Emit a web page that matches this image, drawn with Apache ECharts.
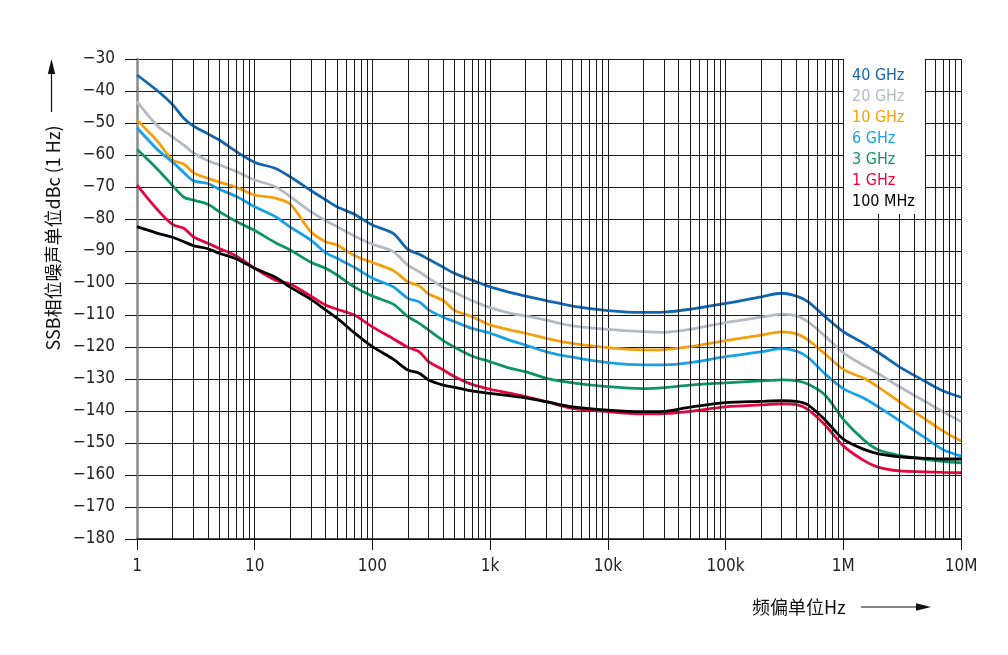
<!DOCTYPE html>
<html>
<head>
<meta charset="utf-8">
<script src="https://cdn.jsdelivr.net/npm/echarts@6/dist/echarts.min.js"></script>
<style>
  html, body { margin: 0; padding: 0; background: #fff; }
  #chart { position: absolute; left: 0; top: 0; width: 1008px; height: 655px; }
  #edge { position: absolute; left: 2px; top: 0; width: 2px; height: 655px; background: #e2e2e2; }
</style>
</head>
<body>
<div id="edge"></div>
<div id="chart"></div>
<script>
// 频偏 (Hz)
const freq = [1, 1.5, 2, 2.5, 3, 4, 5, 7, 10, 15, 20, 30, 40, 50, 70, 100, 150, 200, 250, 300, 400, 500, 700,
  1e3, 1.5e3, 2e3, 3e3, 5e3, 1e4, 2e4, 3e4, 5e4, 1e5, 2e5, 3e5, 4e5, 5e5, 7e5,
  1e6, 1.5e6, 2e6, 3e6, 5e6, 7e6, 1e7];

// SSB 相位噪声 (dBc/Hz)
const ghz40 = [-35, -40, -44.2, -48.5, -50.9, -53.4, -55.3, -59, -62.3, -64.2, -66.8, -71.1, -74, -76.2, -78.5, -81.9, -84.5, -89.5, -91, -92.6, -95.1, -97, -99.1,
  -101.2, -103, -104.1, -105.5, -107.2, -108.6, -109.2, -109.1, -108.2, -106.4, -104.3, -103.2, -104.1, -105.8, -110.5,
  -115.2, -118.9, -121.8, -126.2, -130.8, -133.7, -135.7];
const ghz20 = [-43.3, -51, -54.3, -56.9, -59.3, -61.8, -63.1, -65.2, -67.8, -69.9, -73, -77.7, -80.5, -82.4, -85.3, -87.9, -90.2, -94.4, -96.5, -98.5, -101.4, -103, -105.5,
  -107.7, -109.5, -110.3, -111.6, -113.4, -114.5, -115.2, -115.4, -114.5, -112.4, -110.7, -109.7, -110.3, -112.1, -116.6,
  -121.8, -125.8, -128.4, -132.4, -137.1, -140.2, -143.3];
const ghz10 = [-49.1, -55.8, -61.6, -62.8, -65.5, -67.3, -68.5, -70.1, -72.5, -73.5, -75.3, -84, -87.1, -88.1, -91.4, -93.6, -96.1, -99.6, -100.9, -103.4, -105.5, -108.6, -110.5,
  -113.1, -114.7, -115.7, -117.3, -118.9, -120.2, -120.9, -120.8, -119.9, -118, -116.3, -115.3, -115.9, -117.8, -122.2,
  -127, -129.8, -132.6, -137.1, -142.6, -146.2, -149.4];
const ghz6 = [-51.5, -58.4, -62.2, -65.5, -68, -68.9, -70.7, -73, -76.2, -79.3, -82.5, -86.6, -90.5, -92.3, -95.1, -98.5, -101.2, -104.8, -105.9, -108.4, -110.7, -112.1, -114.2,
  -115.7, -118, -119.4, -121.5, -123.2, -124.9, -125.6, -125.6, -124.9, -123, -121.5, -120.5, -121.3, -123.2, -128.4,
  -133, -136, -138.8, -143, -148.5, -152, -154.1];
const ghz3 = [-58.2, -64.5, -69.5, -73.2, -74.1, -75.4, -77.7, -80.8, -83.6, -87.4, -89.7, -93.5, -95.4, -97.5, -101.2, -104.1, -106.6, -110.5, -112.6, -114.7, -118, -120.1, -122.8,
  -124.6, -126.7, -127.7, -129.8, -131.2, -132.4, -133, -132.7, -131.9, -131.2, -130.6, -130.3, -130.5, -131.6, -135,
  -142.6, -149.1, -152.2, -153.9, -155.1, -155.7, -156.2];
const ghz1 = [-69.4, -77.2, -81.7, -82.9, -85.5, -87.6, -89.2, -91.6, -95.4, -99.1, -100.3, -104.1, -106.9, -108.2, -110, -113.7, -117.4, -120.1, -121.5, -124.6, -127.2, -129.3, -131.7,
  -133.2, -134.5, -135.5, -137.1, -139.2, -140.2, -140.9, -140.8, -140.1, -138.7, -138.1, -137.8, -138, -139.5, -144.4,
  -150.9, -155.5, -157.6, -158.7, -159, -159.2, -159.3];
const mhz100 = [-82.4, -84.5, -85.7, -87.1, -88.3, -89.3, -90.7, -92.5, -95.4, -98.2, -101.3, -105.1, -108.4, -111, -115.5, -119.9, -123.8, -127.2, -128.2, -130.3, -131.9, -132.6, -133.7,
  -134.5, -135.3, -135.9, -137.1, -138.7, -139.7, -140.2, -140.1, -138.8, -137.4, -137, -136.8, -137, -138.1, -142.8,
  -148.8, -152, -153.4, -154.3, -154.8, -155, -155];

const seriesNames = ['40 GHz', '20 GHz', '10 GHz', '6 GHz', '3 GHz', '1 GHz', '100 MHz'];
const seriesColors = ['#1266b0', '#b3bac2', '#f4a00c', '#17a2e8', '#0e9563', '#e4063c', '#000000'];
const seriesValues = [ghz40, ghz20, ghz10, ghz6, ghz3, ghz1, mhz100];

const xTickLabels = ['1', '10', '100', '1k', '10k', '100k', '1M', '10M'];

const numFont = "'Liberation Sans Narrow', 'DejaVu Sans Condensed', 'Roboto Condensed', Roboto, sans-serif";
const cjkFont = "'Liberation Sans Narrow', 'Noto Sans CJK SC', sans-serif";

// 对数网格的细分线 2..9 x 10^n
const minorLines = [];
for (let d = 0; d < 7; d++) {
  for (let m = 2; m <= 9; m++) {
    minorLines.push({ xAxis: m * Math.pow(10, d) });
  }
}

const chart = echarts.init(document.getElementById('chart'));

const series = seriesNames.map((name, i) => ({
  name: name,
  type: 'line',
  z: 3,
  showSymbol: false,
  smooth: 0.3,
  color: seriesColors[i],
  lineStyle: { width: 2.8, color: seriesColors[i] },
  data: freq.map((f, j) => [f, seriesValues[i][j]])
}));

// 网格细分线
series.unshift({
  name: 'grid',
  type: 'line',
  z: 1,
  data: [],
  silent: true,
  markLine: {
    silent: true,
    symbol: ['none', 'none'],
    label: { show: false },
    animation: false,
    lineStyle: { color: '#1a1a1a', width: 1, type: 'solid' },
    emphasis: { disabled: true },
    data: minorLines
  }
});

chart.setOption({
  animation: false,
  backgroundColor: '#fff',
  grid: { left: 137, right: 47, top: 59, bottom: 116 },
  legend: {
    orient: 'vertical',
    align: 'left',
    left: 844,
    top: 57,
    padding: [11, 10, 4, 3],
    backgroundColor: '#fff',
    icon: 'none',
    itemWidth: 0,
    itemHeight: 14,
    itemGap: 5,
    selectedMode: false,
    z: 10,
    textStyle: { fontFamily: numFont, fontSize: 16, lineHeight: 16 },
    data: seriesNames.map((n, i) => ({ name: n, textStyle: { color: seriesColors[i] } }))
  },
  xAxis: {
    type: 'log',
    logBase: 10,
    min: 1,
    max: 1e7,
    splitNumber: 7,
    axisLine: { lineStyle: { color: '#111', width: 1.5 } },
    axisTick: { show: true, length: 11, lineStyle: { color: '#111', width: 1 } },
    axisLabel: {
      margin: 19,
      color: '#222',
      fontFamily: numFont,
      fontSize: 17,
      formatter: v => xTickLabels[Math.round(Math.log10(v))]
    },
    splitLine: { show: true, lineStyle: { color: '#1a1a1a', width: 1 } }
  },
  yAxis: {
    type: 'value',
    min: -180,
    max: -30,
    interval: 10,
    axisLine: { show: true, lineStyle: { color: '#8a8a8a', width: 2.5 } },
    axisTick: { show: true, length: 12, lineStyle: { color: '#111', width: 1 } },
    axisLabel: {
      margin: 22,
      color: '#222',
      fontFamily: numFont,
      fontSize: 17,
      formatter: v => String(v).replace('-', '\u2212')
    },
    splitLine: { show: true, lineStyle: { color: '#1a1a1a', width: 1 } }
  },
  graphic: [
    {
      type: 'text',
      x: 53, y: 238,
      rotation: Math.PI / 2,
      style: {
        text: 'SSB相位噪声单位dBc (1 Hz)',
        fontFamily: cjkFont,
        fontSize: 18,
        fill: '#111',
        align: 'center',
        verticalAlign: 'middle'
      }
    },
    { type: 'line', shape: { x1: 51.5, y1: 112, x2: 51.5, y2: 72 }, style: { stroke: '#111', lineWidth: 1.2 } },
    { type: 'polygon', shape: { points: [[51.5, 59], [47.8, 74], [55.2, 74]] }, style: { fill: '#111' } },
    {
      type: 'text',
      x: 752, y: 607,
      style: {
        text: '频偏单位Hz',
        fontFamily: cjkFont,
        fontSize: 18,
        fill: '#111',
        align: 'left',
        verticalAlign: 'middle'
      }
    },
    { type: 'line', shape: { x1: 861, y1: 607, x2: 918, y2: 607 }, style: { stroke: '#111', lineWidth: 1.2 } },
    { type: 'polygon', shape: { points: [[931, 607], [916, 603.3], [916, 610.7]] }, style: { fill: '#111' } }
  ],
  series: series
});
</script>
</body>
</html>
